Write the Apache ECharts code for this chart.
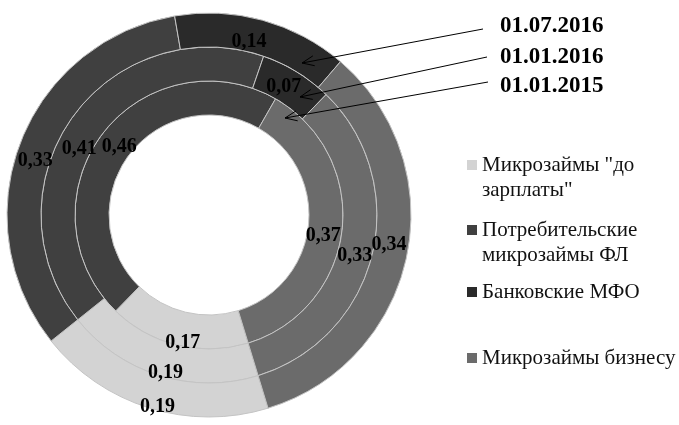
<!DOCTYPE html>
<html>
<head>
<meta charset="utf-8">
<script src="https://cdn.jsdelivr.net/npm/echarts@6/dist/echarts.min.js"></script>
<style>html,body{margin:0;padding:0;background:#fff}#c{width:679px;height:425px}</style>
</head>
<body>
<div id="c"></div>
<script>
var categories = ['Микрозаймы "до зарплаты"', 'Потребительские микрозаймы ФЛ', 'Банковские МФО', 'Микрозаймы бизнесу'];
var legendLabels = ['Микрозаймы "до\nзарплаты"', 'Потребительские\nмикрозаймы ФЛ', 'Банковские МФО', 'Микрозаймы бизнесу'];
var colors = ['#d3d3d3', '#404040', '#2a2a2a', '#6b6b6b'];
var ringNames = ['01.01.2015', '01.01.2016', '01.07.2016'];
var values2015 = [0.17, 0.46, 0, 0.37];
var values2016 = [0.19, 0.41, 0.07, 0.33];
var values2016h = [0.19, 0.33, 0.14, 0.34];

var chart = echarts.init(document.getElementById('c'));
var cx = 209, cy = 215;
var radii = [[100, 134], [134, 168], [168, 202]];
var seriesValues = [values2015, values2016, values2016h];
// label nudges (layout only) per ring, per category
var labelNudge = [
  [[2, 11], [6, 4], [0, 0], [-5, 7]],
  [[2, 11], [-4, 23], [-6, 3], [-4, 5]],
  [[4, 12], [2, 13], [-10, 8], [-4, -9]]
];

function fmt(v) { return v.toFixed(2).replace('.', ','); }

var series = seriesValues.map(function (vals, i) {
  return {
    type: 'pie',
    name: ringNames[i],
    center: [cx, cy],
    radius: radii[i],
    startAngle: -73,
    clockwise: true,
    avoidLabelOverlap: false,
    silent: true,
    animation: false,
    itemStyle: { borderColor: '#c4c4c4', borderWidth: 1 },
    label: {
      show: true,
      position: 'inside',
      formatter: function (p) { return fmt(p.value); },
      fontFamily: 'Liberation Serif',
      fontWeight: 'bold',
      fontSize: 20,
      color: '#000'
    },
    labelLayout: function (p) {
      var n = labelNudge[i][p.dataIndex];
      return { dx: n[0], dy: n[1], hideOverlap: false };
    },
    labelLine: { show: false },
    emphasis: { disabled: true },
    data: vals.map(function (v, j) {
      var d = { name: categories[j], value: v, itemStyle: { color: colors[j] } };
      if (v === 0) { d.label = { show: false }; d.itemStyle.borderWidth = 0; }
      return d;
    })
  };
});

var legendCenters = [165, 230, 292, 358];
var LH = 25;
var legends = categories.map(function (name, j) {
  var twoLine = legendLabels[j].indexOf('\n') >= 0;
  var h = twoLine ? LH * 3 : LH;
  return {
    orient: 'vertical',
    left: 467,
    top: legendCenters[j] - h / 2,
    padding: 0,
    itemWidth: 10,
    itemHeight: 10,
    itemGap: 0,
    icon: 'rect',
    selectedMode: false,
    itemStyle: { borderWidth: 0, color: colors[j] },
    data: [name],
    formatter: function () { return twoLine ? '\n' + legendLabels[j] : legendLabels[j]; },
    textStyle: { fontFamily: 'Liberation Serif', fontSize: 21, color: '#111', lineHeight: LH }
  };
});

// ring-name annotations with arrows
var annot = [
  { text: ringNames[2], tx: 500, ty: 25, from: [483, 29], to: [302, 63] },
  { text: ringNames[1], tx: 500, ty: 56, from: [487, 57], to: [300, 97] },
  { text: ringNames[0], tx: 500, ty: 85, from: [488, 82], to: [285, 118] }
];
var graphics = [];
annot.forEach(function (a) {
  graphics.push({ type: 'text', left: a.tx, top: a.ty - 10, z: 100, silent: true,
    style: { text: a.text, font: 'bold 23px "Liberation Serif"', fill: '#000' } });
  graphics.push({ type: 'line', z: 100, silent: true,
    shape: { x1: a.from[0], y1: a.from[1], x2: a.to[0], y2: a.to[1] },
    style: { stroke: '#000', lineWidth: 1 } });
  var dx = a.from[0] - a.to[0], dy = a.from[1] - a.to[1];
  var L = Math.sqrt(dx * dx + dy * dy); dx /= L; dy /= L;
  var len = 12, w = 5;
  var px = -dy, py = dx;
  graphics.push({ type: 'polyline', z: 100, silent: true,
    shape: { points: [
      [a.to[0] + dx * len + px * w, a.to[1] + dy * len + py * w],
      [a.to[0], a.to[1]],
      [a.to[0] + dx * len - px * w, a.to[1] + dy * len - py * w]
    ] },
    style: { stroke: '#000', lineWidth: 1, fill: null } });
});

chart.setOption({
  backgroundColor: '#fff',
  animation: false,
  legend: legends,
  series: series,
  graphic: graphics
});
</script>
</body>
</html>
